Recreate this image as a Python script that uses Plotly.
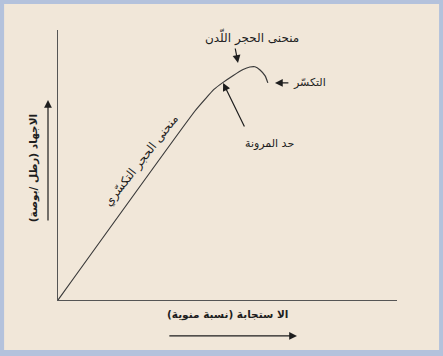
import plotly.graph_objects as go

# stress-strain curve (axes run 0..100 both ways)
strain = [0, 40.4, 43.4, 46.0, 48.7, 51.6, 54.6, 56.6, 58.1, 59.6, 61.1, 61.9]
stress = [0, 70.0, 74.4, 78.0, 80.6, 83.1, 85.4, 86.3, 86.4, 85.2, 83.0, 80.4]

# labels
x_title = "الا ستجابة (نسبة منوية)"
y_title = "الاجهاد (رطل /بوصة)"
brittle_label = "منحنى الحجر التكسّري"
plastic_label = "منحنى الحجر اللّدن"
fracture_label = "التكسّر"
elastic_label = "حد المرونة"

# label anchors and arrow tips / tails in data units
plastic_text = (57.2, 97.4)
plastic_tip, plastic_tail = (53.1, 87.8), (52.2, 93.7)
fracture_text = (74.3, 80.4)
fracture_tip, fracture_tail = (64.0, 80.4), (68.4, 80.4)
elastic_text = (62.5, 58.1)
elastic_tip, elastic_tail = (48.7, 80.4), (55.2, 63.7)
brittle_text = (24.6, 51.8)

FONT = "DejaVu Sans, Arial, sans-serif"
INK = "#1e1e1e"
BEIGE = "#f1e7d9"
BORDER = "#b4c2dc"

fig = go.Figure()

fig.add_trace(go.Scatter(
    x=strain, y=stress, mode="lines",
    line=dict(color="#3a3a3a", width=1.2, shape="spline", smoothing=0.5),
    hoverinfo="skip", showlegend=False,
))

ann = []
# text labels
ann.append(dict(x=plastic_text[0], y=plastic_text[1], text=plastic_label, showarrow=False,
                font=dict(size=12)))
ann.append(dict(x=fracture_text[0], y=fracture_text[1], text=fracture_label, showarrow=False,
                font=dict(size=11)))
ann.append(dict(x=elastic_text[0], y=elastic_text[1], text=elastic_label, showarrow=False,
                font=dict(size=11)))
ann.append(dict(x=brittle_text[0], y=brittle_text[1], text=brittle_label, showarrow=False,
                textangle=-52, font=dict(size=12)))

# pointer arrows
for tip, tail in [(plastic_tip, plastic_tail), (fracture_tip, fracture_tail), (elastic_tip, elastic_tail)]:
    ann.append(dict(x=tip[0], y=tip[1], ax=tail[0], ay=tail[1], axref="x", ayref="y",
                    text="", showarrow=True, arrowhead=2, arrowsize=1.3, arrowwidth=1.2,
                    arrowcolor=INK, standoff=0))

# axis titles + their arrows
ann.append(dict(xref="x domain", yref="y domain", x=0.501, y=-0.085, text="<b>" + x_title + "</b>",
                showarrow=False, font=dict(size=10.5)))
ann.append(dict(xref="x domain", yref="y domain", x=-0.095, y=0.489, text="<b>" + y_title + "</b>",
                showarrow=False, textangle=-90, font=dict(size=10.5)))
ann.append(dict(xref="x domain", yref="y domain", axref="x domain", ayref="y domain",
                x=0.705, y=-0.133, ax=0.324, ay=-0.133, text="", showarrow=True,
                arrowhead=2, arrowsize=1.3, arrowwidth=1.2, arrowcolor=INK, standoff=0))
ann.append(dict(xref="x domain", yref="y domain", axref="x domain", ayref="y domain",
                x=-0.0295, y=0.741, ax=-0.0295, ay=0.289, text="", showarrow=True,
                arrowhead=2, arrowsize=1.3, arrowwidth=1.2, arrowcolor=INK, standoff=0))

fig.update_layout(
    width=443, height=356,
    margin=dict(l=58, r=46, t=30, b=56),
    paper_bgcolor=BORDER,
    plot_bgcolor=BEIGE,
    font=dict(family=FONT, color=INK),
    annotations=ann,
    shapes=[dict(type="rect", xref="paper", yref="paper", layer="below",
                 x0=-0.159, x1=1.124, y0=-0.185, y1=1.096,
                 fillcolor=BEIGE, line=dict(width=0))],
)
fig.update_xaxes(range=[0, 100], showline=True, linecolor="#555555", linewidth=1,
                 showgrid=False, zeroline=False, showticklabels=False, ticks="")
fig.update_yaxes(range=[0, 100], showline=True, linecolor="#555555", linewidth=1,
                 showgrid=False, zeroline=False, showticklabels=False, ticks="")

# drop the browser's default body margin so the figure sits at the window corner
fig.write_html("out.html", config={"displayModeBar": False},
               post_script="document.body.style.margin='0px';")
